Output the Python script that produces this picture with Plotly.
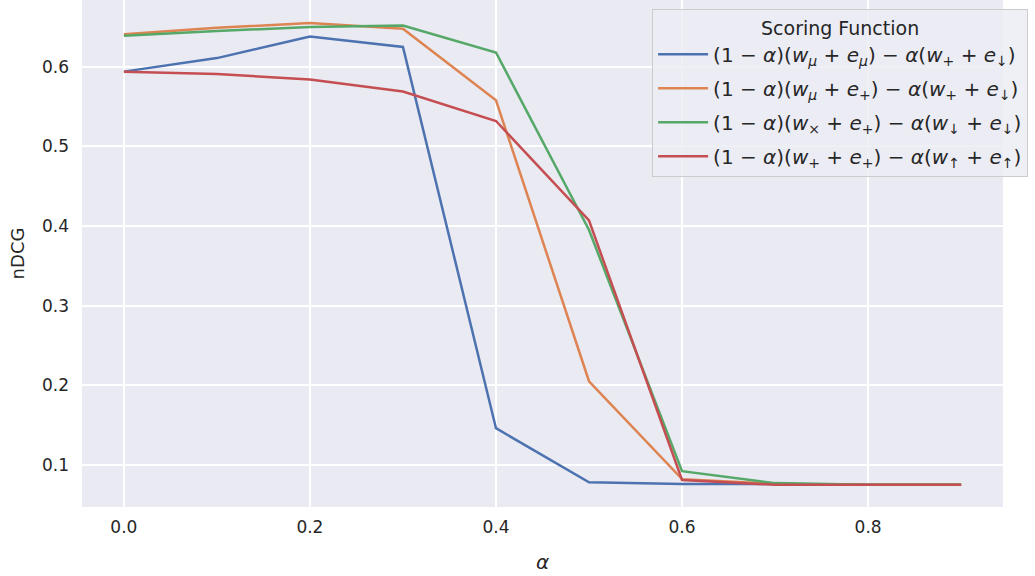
import plotly.graph_objects as go

alpha = [0.0, 0.1, 0.2, 0.3, 0.4, 0.5, 0.6, 0.7, 0.8, 0.9]

blue_vals = [0.594, 0.611, 0.638, 0.625, 0.146, 0.078, 0.076, 0.076, 0.075, 0.075]
orange_vals = [0.641, 0.649, 0.655, 0.648, 0.558, 0.205, 0.082, 0.076, 0.075, 0.075]
green_vals = [0.639, 0.645, 0.650, 0.652, 0.618, 0.395, 0.092, 0.077, 0.075, 0.075]
red_vals = [0.594, 0.591, 0.584, 0.569, 0.532, 0.407, 0.081, 0.075, 0.075, 0.075]

names = [
    "(1 − <i>α</i>)(<i>w</i><sub><i>μ</i></sub> + <i>e</i><sub><i>μ</i></sub>) − <i>α</i>(<i>w</i><sub>+</sub> + <i>e</i><sub>↓</sub>)",
    "(1 − <i>α</i>)(<i>w</i><sub><i>μ</i></sub> + <i>e</i><sub>+</sub>) − <i>α</i>(<i>w</i><sub>+</sub> + <i>e</i><sub>↓</sub>)",
    "(1 − <i>α</i>)(<i>w</i><sub>×</sub> + <i>e</i><sub>+</sub>) − <i>α</i>(<i>w</i><sub>↓</sub> + <i>e</i><sub>↓</sub>)",
    "(1 − <i>α</i>)(<i>w</i><sub>+</sub> + <i>e</i><sub>+</sub>) − <i>α</i>(<i>w</i><sub>↑</sub> + <i>e</i><sub>↑</sub>)",
]
colors = ["#4c72b0", "#dd8452", "#55a868", "#c44e52"]
series = [blue_vals, orange_vals, green_vals, red_vals]

fig = go.Figure()
for i, (name, col, vals) in enumerate(zip(names, colors, series)):
    fig.add_trace(go.Scatter(x=alpha, y=vals, mode="lines", name=name,
                             legendgroup=f"g{i}",
                             line=dict(color=col, width=2.5)))

font_fam = "DejaVu Sans, Arial, sans-serif"
fig.update_layout(
    width=1035, height=576,
    paper_bgcolor="white", plot_bgcolor="#eaeaf2",
    margin=dict(l=82, r=32, t=0, b=69),
    font=dict(family=font_fam, size=17, color="#262626"),
    showlegend=True,
    legend=dict(
        x=0.619, y=0.982, xanchor="left", yanchor="top",
        bgcolor="rgba(236,236,244,0.85)", bordercolor="#cccccc", borderwidth=1,
        font=dict(family=font_fam, size=20, color="#262626"),
        title=dict(text="Scoring Function", side="top center",
                   font=dict(family=font_fam, size=19, color="#262626")),
        tracegroupgap=5, itemwidth=50,
    ),
    xaxis=dict(
        range=[-0.045, 0.945], tickvals=[0.0, 0.2, 0.4, 0.6, 0.8],
        ticktext=["0.0", "0.2", "0.4", "0.6", "0.8"],
        showgrid=True, gridcolor="white", gridwidth=1.6, zeroline=False,
        showline=False, ticks="", ticklen=0, ticklabelstandoff=8,
        title=dict(text="<i>α</i>", font=dict(size=20), standoff=18),
        tickfont=dict(size=17),
    ),
    yaxis=dict(
        range=[0.047, 0.684], tickvals=[0.1, 0.2, 0.3, 0.4, 0.5, 0.6],
        ticktext=["0.1", "0.2", "0.3", "0.4", "0.5", "0.6"],
        showgrid=True, gridcolor="white", gridwidth=1.6, zeroline=False,
        showline=False, ticks="", ticklen=0, ticklabelstandoff=12,
        title=dict(text="nDCG", font=dict(size=18), standoff=12),
        tickfont=dict(size=17),
    ),
)

fig.write_html("out.html", config={"displayModeBar": False},
               post_script="document.body.style.margin='0';")
